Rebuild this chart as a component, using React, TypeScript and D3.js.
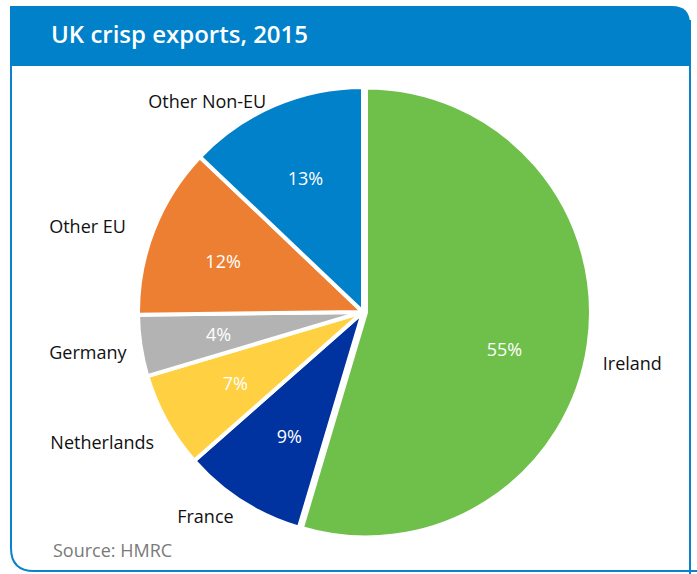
import React from "react";
import * as d3 from "d3";

const categories = ["Ireland", "France", "Netherlands", "Germany", "Other EU", "Other Non-EU"];
const shares = [54.6, 8.9, 6.9, 4.4, 12.3, 12.9];
const shareLabels = ["55%", "9%", "7%", "4%", "12%", "13%"];
const colors = ["#6fbf4b", "#0033a0", "#ffd042", "#b3b3b3", "#ed7f33", "#0081c9"];
const title = "UK crisp exports, 2015";
const source = "Source: HMRC";

const W = 697;
const H = 574;
const cx = 363;
const cy = 312;
const R = 225;
const FONT = "'Open Sans', 'Noto Sans', sans-serif";

// small per-label nudges (layout only)
const nameNudge: Record<string, [number, number]> = {
  "Ireland": [-2, 12],
  "France": [-16, -18],
  "Netherlands": [-7, -11],
  "Germany": [-4, -1],
  "Other EU": [-16, 16],
  "Other Non-EU": [-49, 38],
};
const pctNudge: Record<string, [number, number]> = {
  "Ireland": [-3, 16],
  "France": [5, 1],
  "Other EU": [-4, 2],
};
const explode: Record<string, number> = { "Ireland": 3 };

export default function App() {
  const data = categories.map((c, i) => ({ name: c, value: shares[i], label: shareLabels[i], color: colors[i] }));
  const pie = d3.pie<any>().value((d) => d.value).sort(null);
  const arcs = pie(data);
  const arc = d3.arc<any>().innerRadius(0).outerRadius(R);
  const inner = d3.arc<any>().innerRadius(146).outerRadius(146);

  const outerPos = (a: any, name: string) => {
    const th = (a.startAngle + a.endAngle) / 2;
    const s = Math.sin(th);
    const c = -Math.cos(th);
    const r0 = 240;
    const approxW = name.length * 9.5;
    const d = r0 + (approxW / 2) * Math.abs(s) + 9 * Math.abs(c);
    const nd = nameNudge[name] || [0, 0];
    return { x: cx + d * s + nd[0], y: cy + d * c + nd[1] };
  };

  return (
    <svg width={W} height={H} style={{ display: "block", position: "absolute", left: 0, top: 0 }}>
      <rect x={0} y={0} width={W} height={H} fill="#fff" />
      <path d="M11,6 L11,548 Q11,571 34,571 L700,571" fill="none" stroke="#0a82cc" strokeWidth={2} />
      <line x1={690} y1={20} x2={690} y2={574} stroke="#0a82cc" strokeWidth={2} />
      <path d="M10,6 L672,6 Q690,6 690,24 L690,66 L10,66 Z" fill="#0081c9" />
      <text x={51} y={43} fill="#fff" fontFamily={FONT} fontSize={24} fontWeight={600}>
        {title}
      </text>
      <g transform={`translate(${cx},${cy})`}>
        {arcs.map((a, i) => {
          const e = explode[a.data.name] || 0;
          const th = (a.startAngle + a.endAngle) / 2;
          return (
            <path key={i} d={arc(a) as string} transform={`translate(${e * Math.sin(th)},${-e * Math.cos(th)})`}
              fill={a.data.color} stroke="#fff" strokeWidth={4} strokeLinejoin="round" />
          );
        })}
        {arcs.map((a, i) => {
          const [x, y] = inner.centroid(a);
          const nd = pctNudge[a.data.name] || [0, 0];
          return (
            <text key={"p" + i} x={x + nd[0]} y={y + nd[1]} textAnchor="middle" dominantBaseline="central" fill="#fff" fontFamily={FONT} fontSize={18}>
              {a.data.label}
            </text>
          );
        })}
      </g>
      {arcs.map((a, i) => {
        const p = outerPos(a, a.data.name);
        return (
          <text key={"n" + i} x={p.x} y={p.y} textAnchor="middle" dominantBaseline="central" fill="#111" fontFamily={FONT} fontSize={18}>
            {a.data.name}
          </text>
        );
      })}
      <text x={53} y={557} fill="#7a7a7a" fontFamily={FONT} fontSize={18}>
        {source}
      </text>
    </svg>
  );
}
